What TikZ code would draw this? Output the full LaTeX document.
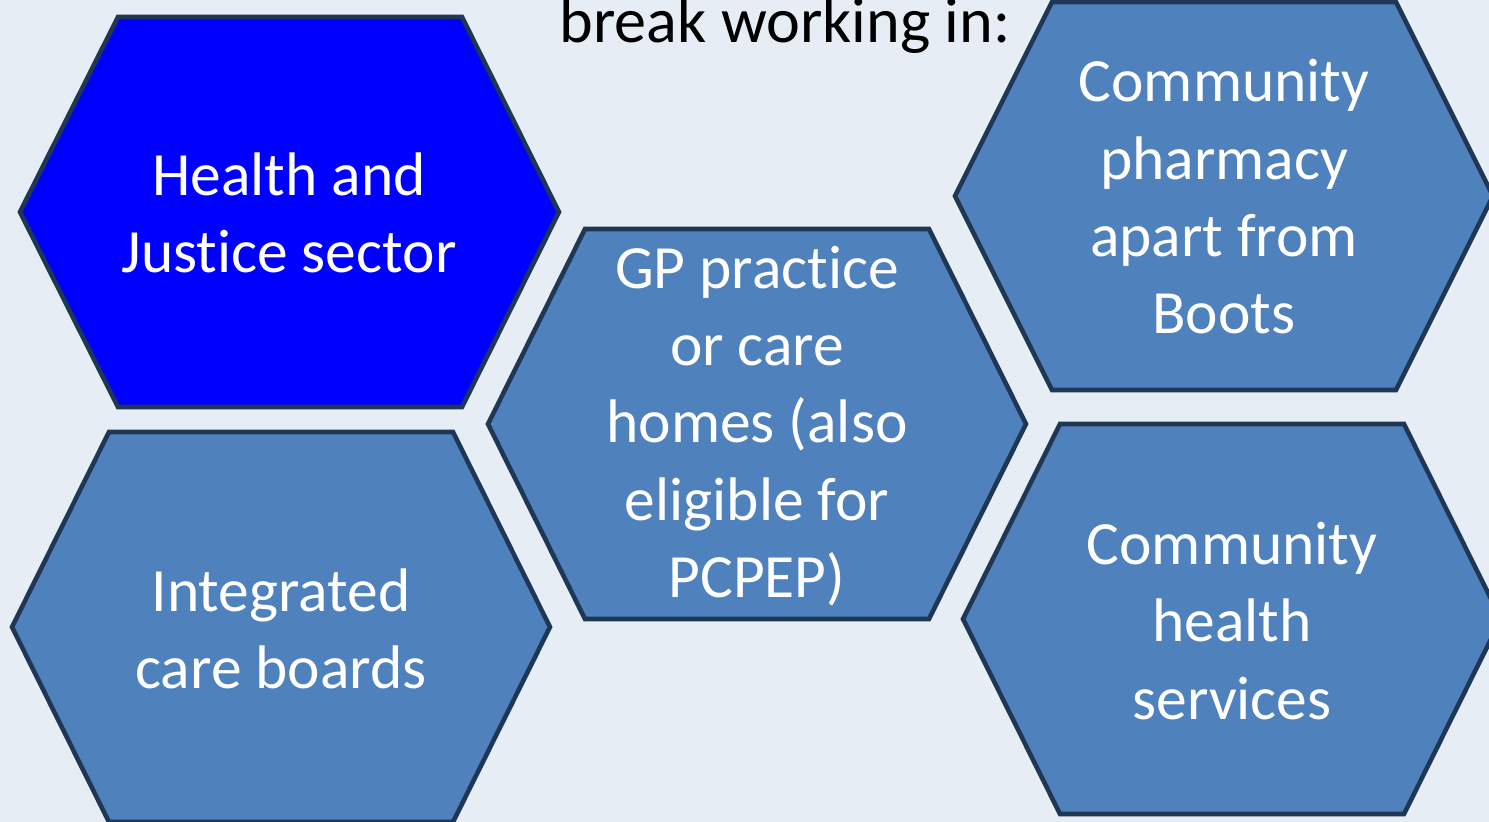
\documentclass[tikz,border=0pt]{standalone}
\usepackage{fontspec}
\setmainfont{Carlito}[Ligatures=NoCommon]
\definecolor{bgcol}{RGB}{230,237,245}
\definecolor{hexfill}{RGB}{79,129,189}
\definecolor{hexline}{RGB}{31,55,84}
\definecolor{hexblue}{RGB}{0,0,255}

\begin{document}
\begin{tikzpicture}[x=0.02cm,y=-0.02cm]
    \tikzstyle{hexa}=[draw=hexline, fill=hexfill, line width=2.6pt, line join=miter]
    \tikzstyle{hextext}=[text=white, align=center, font=\fontsize{35}{44}\selectfont]
    \fill[bgcol] (0,0) rectangle (1489,822);
    \clip (0,0) rectangle (1489,822);

    % hexagons, drawn from the left vertex
    \filldraw[hexa, fill=hexblue] (289,212) ++(-269,0) -- ++(98,-195) -- ++(344,0) -- ++(97,195)
                                  -- ++(-97,195) -- ++(-344,0) -- cycle;
    \filldraw[hexa] (281,627) ++(-269,0) -- ++(97,-195) -- ++(344,0) -- ++(97,195)
                    -- ++(-97,195) -- ++(-344,0) -- cycle;
    \filldraw[hexa] (757,424) ++(-269,0) -- ++(97,-195) -- ++(344,0) -- ++(97,195)
                    -- ++(-97,195) -- ++(-344,0) -- cycle;
    \filldraw[hexa] (1224,196) ++(-269,0) -- ++(97,-194) -- ++(344,0) -- ++(97,194)
                    -- ++(-97,194) -- ++(-344,0) -- cycle;
    \filldraw[hexa] (1232,619) ++(-269,0) -- ++(97,-195) -- ++(344,0) -- ++(97,195)
                    -- ++(-97,195) -- ++(-344,0) -- cycle;

    \node[anchor=base] (title) at (785,42) {\fontsize{36.5}{44}\selectfont break working in:};

    \node[hextext] (justice)  at (289,213) {Health and\\Justice sector};
    \node[hextext] (icb)      at (281,629) {Integrated\\care boards};
    \node[hextext] (gp)       at (757,426) {GP practice\\or care\\homes (also\\eligible for\\PCPEP)};
    \node[hextext] (pharmacy) at (1224,197) {Community\\pharmacy\\apart from\\Boots};
    \node[hextext] (community) at (1232,621) {Community\\health\\services};

\end{tikzpicture}
\end{document}
